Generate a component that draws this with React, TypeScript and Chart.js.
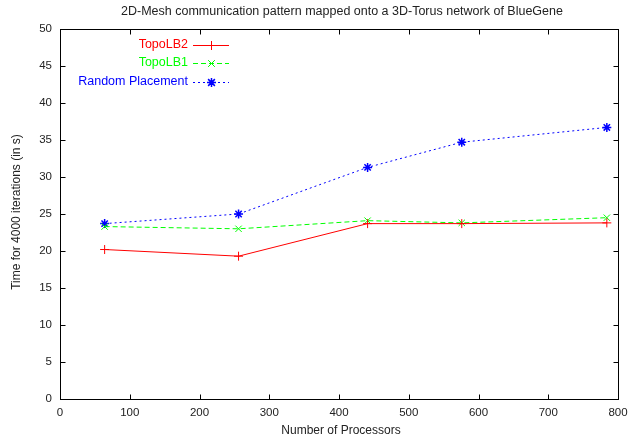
import React, { useEffect, useRef } from "react";
import { Chart, registerables } from "chart.js";

Chart.register(...registerables);

const processors = [64, 256, 441, 576, 784];
const topoLB2 = [20.2, 19.3, 23.7, 23.7, 23.8];
const topoLB1 = [23.3, 23.0, 24.1, 23.8, 24.5];
const randomPlacement = [23.7, 25.0, 31.3, 34.7, 36.7];

const seriesNames = ["TopoLB2", "TopoLB1", "Random Placement"];
const titleText = "2D-Mesh communication pattern mapped onto a 3D-Torus network of BlueGene";
const xTitle = "Number of Processors";
const yTitle = "Time for 4000 iterations (in s)";

const FONT = "'Liberation Sans', Arial, Helvetica, sans-serif";
const TEXT = "#222";

const toPoints = (ys: number[]) => processors.map((x, i) => ({ x, y: ys[i] }));

function drawMarker(ctx: CanvasRenderingContext2D, style: string, x: number, y: number, r: number, color: string, w: number) {
  ctx.save();
  ctx.strokeStyle = color;
  ctx.lineWidth = w;
  ctx.setLineDash([]);
  ctx.beginPath();
  if (style === "cross" || style === "star") {
    ctx.moveTo(x - r, y);
    ctx.lineTo(x + r, y);
    ctx.moveTo(x, y - r);
    ctx.lineTo(x, y + r);
  }
  if (style === "crossRot" || style === "star") {
    const d = r * 0.75;
    ctx.moveTo(x - d, y - d);
    ctx.lineTo(x + d, y + d);
    ctx.moveTo(x - d, y + d);
    ctx.lineTo(x + d, y - d);
  }
  ctx.stroke();
  ctx.restore();
}

const framePlugin = {
  id: "gnuplotFrame",
  afterDatasetsDraw(chart: any) {
    const { ctx, chartArea: a, scales } = chart;
    const xs = scales.x;
    const ys = scales.y;
    ctx.save();
    ctx.strokeStyle = "#000";
    ctx.lineWidth = 1;
    ctx.setLineDash([]);
    const L = Math.round(a.left) + 0.5;
    const T = Math.round(a.top) + 0.5;
    const R = Math.round(a.right) + 0.5;
    const B = Math.round(a.bottom) + 0.5;
    ctx.strokeRect(L, T, R - L, B - T);
    const tl = 5;
    ctx.beginPath();
    xs.ticks.forEach((t: any) => {
      const px = Math.round(xs.getPixelForValue(t.value)) + 0.5;
      ctx.moveTo(px, B);
      ctx.lineTo(px, B - tl);
      ctx.moveTo(px, T);
      ctx.lineTo(px, T + tl);
    });
    ys.ticks.forEach((t: any) => {
      const py = Math.round(ys.getPixelForValue(t.value)) + 0.5;
      ctx.moveTo(L, py);
      ctx.lineTo(L + tl, py);
      ctx.moveTo(R, py);
      ctx.lineTo(R - tl, py);
    });
    ctx.stroke();

    // titles
    ctx.fillStyle = TEXT;
    ctx.font = `12.5px ${FONT}`;
    ctx.textAlign = "center";
    ctx.textBaseline = "middle";
    ctx.fillText(titleText, (a.left + a.right) / 2 + 3, 12);
    ctx.font = `12px ${FONT}`;
    ctx.fillText(xTitle, (a.left + a.right) / 2 + 2, 431);
    ctx.save();
    ctx.translate(17, (a.top + a.bottom) / 2 - 2);
    ctx.rotate(-Math.PI / 2);
    ctx.fillText(yTitle, 0, 0);
    ctx.restore();

    // legend
    const ds = chart.data.datasets;
    const rows = [44.5, 63, 81.5];
    ctx.font = `12.5px ${FONT}`;
    ctx.textAlign = "right";
    ds.forEach((d: any, i: number) => {
      const y = rows[i];
      const ly = Math.round(y) + 0.5;
      ctx.fillStyle = d.borderColor;
      ctx.fillText(d.label, 188, y);
      ctx.strokeStyle = d.borderColor;
      ctx.lineWidth = 1;
      ctx.setLineDash(d.borderDash || []);
      ctx.beginPath();
      ctx.moveTo(193, ly);
      ctx.lineTo(229, ly);
      ctx.stroke();
      ctx.setLineDash([]);
      drawMarker(ctx, d.pointStyle, 211.5, ly, d.pointRadius, d.borderColor, d.pointBorderWidth);
    });
    ctx.restore();
  },
};

export default function App() {
  const ref = useRef<HTMLCanvasElement>(null);
  useEffect(() => {
    if (!ref.current) return;
    const chart = new Chart(ref.current, {
      type: "scatter",
      data: {
        datasets: [
          {
            label: seriesNames[0],
            data: toPoints(topoLB2),
            showLine: true,
            borderColor: "#ff0000",
            backgroundColor: "#ff0000",
            borderWidth: 1,
            pointStyle: "cross",
            pointRadius: 4.5,
            pointBorderWidth: 1,
          },
          {
            label: seriesNames[1],
            data: toPoints(topoLB1),
            showLine: true,
            borderColor: "#00ff00",
            backgroundColor: "#00ff00",
            borderWidth: 1,
            borderDash: [5, 3],
            pointStyle: "crossRot",
            pointRadius: 4.5,
            pointBorderWidth: 1,
          },
          {
            label: seriesNames[2],
            data: toPoints(randomPlacement),
            showLine: true,
            borderColor: "#0000ff",
            backgroundColor: "#0000ff",
            borderWidth: 1,
            borderDash: [2, 3],
            pointStyle: "star",
            pointRadius: 4.5,
            pointBorderWidth: 1.5,
          },
        ],
      },
      options: {
        animation: false,
        responsive: false,
        maintainAspectRatio: false,
        layout: { padding: { top: 29, right: 24, left: 0, bottom: 0 } },
        plugins: {
          legend: { display: false },
          title: { display: false },
          tooltip: { enabled: false },
        },
        scales: {
          x: {
            type: "linear",
            min: 0,
            max: 800,
            grid: { display: false, drawTicks: false },
            border: { display: false },
            ticks: { stepSize: 100, color: TEXT, font: { family: FONT, size: 11.5 }, padding: 7, maxRotation: 0 },
            afterFit: (s: any) => {
              s.height = 39;
            },
          },
          y: {
            min: 0,
            max: 50,
            grid: { display: false, drawTicks: false },
            border: { display: false },
            ticks: { stepSize: 5, color: TEXT, font: { family: FONT, size: 11.5 }, padding: 8 },
            afterFit: (s: any) => {
              s.width = 60;
            },
          },
        },
      },
      plugins: [framePlugin],
    });
    return () => chart.destroy();
  }, []);
  return (
    <div style={{ position: "fixed", left: 0, top: 0, width: 642, height: 438, background: "#fff" }}>
      <canvas ref={ref} width={642} height={438} />
    </div>
  );
}
